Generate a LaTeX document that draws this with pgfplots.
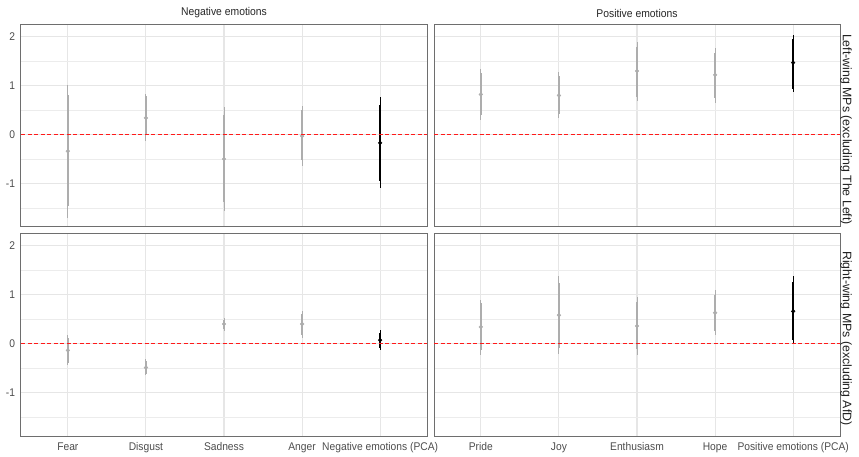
\documentclass[border=0pt]{standalone}
\usepackage{pgfplots}
\usepackage{pgfplotstable}
\pgfplotsset{compat=1.18}
\usepackage{fontspec}
\setmainfont[FakeStretch=0.92]{Liberation Sans}
\newfontfamily\tickfont[FakeStretch=0.92, Color=4D4D4D]{Liberation Sans}
\newfontfamily\titlefont[FakeStretch=0.92, Color=262626]{Liberation Sans}
\newfontfamily\stripfont[Color=1F1F1F]{Liberation Sans}

\definecolor{gcol}{HTML}{ADADAD}
\definecolor{gridc}{HTML}{E6E6E6}
\definecolor{framec}{HTML}{6E6E6E}
\definecolor{refred}{HTML}{FF1A1A}

% columns: x, estimate, thick (inner) interval, thin (outer) interval
\pgfplotstableread{
x y tlo thi wlo whi
1 -0.34 -1.47 0.81 -1.70 1.02
2 0.34 0.00 0.79 -0.13 0.83
3 -0.50 -1.38 0.40 -1.57 0.57
4 -0.03 -0.53 0.50 -0.65 0.58
5 -0.17 -0.95 0.60 -1.10 0.76
}\LN
\pgfplotstableread{
x y tlo thi wlo whi
1 0.82 0.40 1.25 0.29 1.34
2 0.80 0.43 1.19 0.33 1.28
3 1.30 0.77 1.80 0.68 1.90
4 1.22 0.74 1.67 0.65 1.76
5 1.47 0.94 1.95 0.86 2.04
}\LP
\pgfplotstableread{
x y tlo thi wlo whi
1 -0.14 -0.40 0.12 -0.44 0.17
2 -0.49 -0.62 -0.36 -0.65 -0.31
3 0.40 0.29 0.49 0.25 0.53
4 0.40 0.18 0.61 0.12 0.66
5 0.07 -0.10 0.22 -0.14 0.27
}\RN
\pgfplotstableread{
x y tlo thi wlo whi
1 0.34 -0.14 0.83 -0.24 0.90
2 0.58 -0.09 1.24 -0.21 1.38
3 0.36 -0.12 0.85 -0.24 0.95
4 0.63 0.25 1.00 0.18 1.09
5 0.66 0.08 1.26 0.00 1.38
}\RP

\pgfplotsset{
  frame/.style={scale only axis, width=406bp, height=202bp, anchor=south west,
    xmin=0.4, xmax=5.6, ymin=-1.89, ymax=2.24},
  panel/.style={frame,
    xtick={1,2,3,4,5}, ytick={-1,0,1,2}, minor ytick={-1.5,-0.5,0.5,1.5},
    grid=both,
    major grid style={draw=gridc, line width=1.1bp},
    minor grid style={draw=gridc!75!white, line width=0.7bp},
    major tick length=0pt, minor tick length=0pt,
    axis line style={draw=framec, line width=1bp},
    tick label style={font=\tickfont\fontsize{11.2}{13}\selectfont},
    /pgf/number format/assume math mode=true,
    title style={font=\titlefont\fontsize{11.3}{13}\selectfont, yshift=-2bp},
    xticklabel style={yshift=-3bp},
    yticklabel style={xshift=-2.5bp},
    clip=false,
  },
  refline/.style={frame, hide axis},
  skipgray/.style={skip coords between index={4}{5}},
  skipblack/.style={skip coords between index={0}{4}},
}

\newcommand{\panelplots}[1]{%
  \addplot[draw=none, mark=none, skipgray, error bars/.cd, y dir=both, y explicit, error mark=none,
    error bar style={draw=gcol, solid, line width=0.9bp}]
    table[x=x, y=y, y error plus expr=\thisrow{whi}-\thisrow{y}, y error minus expr=\thisrow{y}-\thisrow{wlo}] {#1};
  \addplot[draw=none, mark=none, skipgray, error bars/.cd, y dir=both, y explicit, error mark=none,
    error bar style={draw=gcol, solid, line width=2.1bp}]
    table[x=x, y=y, y error plus expr=\thisrow{thi}-\thisrow{y}, y error minus expr=\thisrow{y}-\thisrow{tlo}] {#1};
  \addplot[only marks, mark=*, mark size=1.9bp, gcol, skipgray] table[x=x, y=y] {#1};
  \addplot[draw=none, mark=none, skipblack, error bars/.cd, y dir=both, y explicit, error mark=none,
    error bar style={draw=black, solid, line width=0.9bp}]
    table[x=x, y=y, y error plus expr=\thisrow{whi}-\thisrow{y}, y error minus expr=\thisrow{y}-\thisrow{wlo}] {#1};
  \addplot[draw=none, mark=none, skipblack, error bars/.cd, y dir=both, y explicit, error mark=none,
    error bar style={draw=black, solid, line width=2.2bp}]
    table[x=x, y=y, y error plus expr=\thisrow{thi}-\thisrow{y}, y error minus expr=\thisrow{y}-\thisrow{tlo}] {#1};
  \addplot[only marks, mark=*, mark size=1.9bp, black, skipblack] table[x=x, y=y] {#1};
}
\newcommand{\zeroline}{%
  \addplot[draw=refred, solid, mark=none, line width=1.1bp, dash pattern=on 4bp off 2.5bp] coordinates {(0.4,0) (5.6,0)};
}

\begin{document}
\begin{tikzpicture}
\useasboundingbox (0,0) rectangle (859bp,457bp);
% top-left
\begin{axis}[panel, at={(21bp,230bp)}, title={Negative emotions}, xticklabels={}]
\panelplots{\LN}
\end{axis}
% top-right
\begin{axis}[panel, at={(434bp,230bp)}, title={Positive emotions}, xticklabels={}, yticklabels={}]
\panelplots{\LP}
\node[rotate=-90, anchor=south, inner sep=0pt, xshift=3.5bp, font=\stripfont\fontsize{12.4}{14}\selectfont]
  at (rel axis cs:1,0.5) {Left-wing MPs (excluding The Left)};
\end{axis}
% bottom-left
\begin{axis}[panel, at={(21bp,21bp)},
  xticklabels={Fear, Disgust, Sadness, Anger, Negative emotions (PCA)}]
\panelplots{\RN}
\end{axis}
% bottom-right
\begin{axis}[panel, at={(434bp,21bp)}, yticklabels={},
  xticklabels={Pride, Joy, Enthusiasm, Hope, Positive emotions (PCA)}]
\panelplots{\RP}
\node[rotate=-90, anchor=south, inner sep=0pt, xshift=3.5bp, font=\stripfont\fontsize{12.4}{14}\selectfont]
  at (rel axis cs:1,0.5) {Right-wing MPs (excluding AfD)};
\end{axis}
% red dashed zero lines, each in an overlay axis with the same frame
\begin{axis}[refline, at={(21bp,230bp)}]\zeroline\end{axis}
\begin{axis}[refline, at={(434bp,230bp)}]\zeroline\end{axis}
\begin{axis}[refline, at={(21bp,21bp)}]\zeroline\end{axis}
\begin{axis}[refline, at={(434bp,21bp)}]\zeroline\end{axis}
\end{tikzpicture}
\end{document}
